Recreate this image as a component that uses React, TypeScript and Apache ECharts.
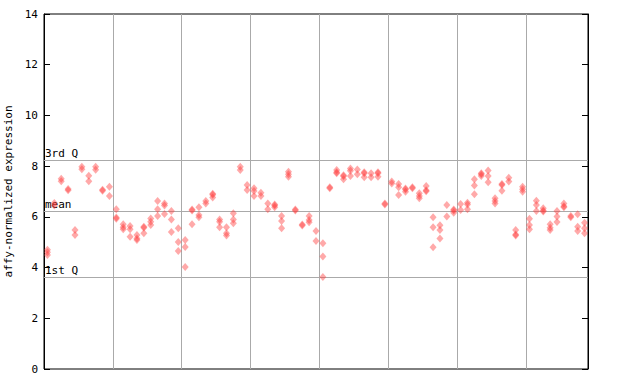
import React, { useEffect, useRef } from "react";
import * as echarts from "echarts";

const rep1 = [4.7,6.55,7.5,7.1,5.48,7.98,7.62,7.98,7.07,7.19, 6.3,5.71,5.64,5.28,5.61,5.94,6.63,6.53,6.23,5.55, 5.09,6.29,6.38,6.63,6.91,5.9,5.59,6.14,7.98,7.26, 7.13,6.95,6.53,6.49,6.03,7.78,6.29,5.7,6.03,5.44, 4.96,7.17,7.85,7.64,7.91,7.87,7.76,7.72,7.76,6.53, 7.39,7.3,7.12,7.17,6.93,7.22,5.98,5.67,6.47,6.29, 6.51,6.56,7.48,7.72,7.83,6.73,7.3,7.54,5.48,7.19, 5.93,6.64,6.34,5.71,6.23,6.53,6.03,6.1,5.77];
const rep2 = [4.5,6.45,7.4,7.05,5.28,7.88,7.4,7.86,7.03,6.82, 5.97,5.59,5.51,5.15,5.57,5.81,6.3,6.45,5.9,5.01, 4.81,6.25,6.07,6.53,6.87,5.81,5.35,5.9,7.85,7.06, 7.02,6.82,6.3,6.45,5.84,7.68,6.25,5.66,5.88,5.05, 4.44,7.13,7.76,7.6,7.82,7.68,7.72,7.56,7.72,6.49, 7.32,7.17,7.08,7.13,6.82,7.05,5.59,5.48,6.01,6.25, 6.27,6.49,7.24,7.68,7.61,6.63,7.26,7.39,5.3,7.09, 5.68,6.47,6.25,5.57,6.01,6.42,5.98,5.61,5.55];
const rep3 = [4.6,null,null,null,null,null,null,null,null,null, 5.93,5.51,5.22,5.09,5.35,5.68,6.03,6.11,5.4,4.65, 4.02,5.71,5.98,null,6.76,5.59,5.26,5.75,null,null, 6.82,null,null,6.38,5.55,7.58,null,null,5.79,null, 3.63,null,7.72,7.48,7.61,null,7.56,null,7.58,null, null,6.86,6.99,null,6.73,7.01,4.8,5.15,null,6.16, null,6.3,6.89,7.61,7.36,6.53,7.03,null,5.26,6.99, 5.51,6.23,6.21,5.48,5.8,6.38,null,5.44,5.35];

const refLines = [
  { name: "3rd Q", value: 8.24 },
  { name: "mean", value: 6.23 },
  { name: "1st Q", value: 3.63 },
];

const yTicks = [0, 2, 4, 6, 8, 10, 12, 14];
const FONT = "DejaVu Sans Mono";

export default function App() {
  const ref = useRef<HTMLDivElement>(null);
  useEffect(() => {
    if (!ref.current) return;
    const chart = echarts.init(ref.current, undefined, { renderer: "svg" });
    const pts: number[][] = [];
    [rep1, rep2, rep3].forEach((arr) => {
      arr.forEach((v, i) => {
        if (v !== null && v !== undefined) pts.push([i + 0.5, v as number]);
      });
    });
    chart.setOption({
      animation: false,
      backgroundColor: "#ffffff",
      grid: {
        left: 44,
        right: 52,
        top: 14,
        bottom: 15,
        containLabel: false,
        outerBoundsMode: "none",
        show: true,
        borderColor: "#000000",
        borderWidth: 1,
        backgroundColor: "transparent",
      },
      xAxis: {
        type: "value",
        min: 0,
        max: rep1.length,
        interval: 10,
        axisLine: { show: false },
        axisTick: { show: false },
        axisLabel: { show: false },
        splitLine: { show: true, lineStyle: { color: "#aaaaaa", width: 1 } },
      },
      yAxis: [
        {
          type: "value",
          min: yTicks[0],
          max: yTicks[yTicks.length - 1],
          interval: 2,
          name: "affy-normalized expression",
          nameLocation: "middle",
          nameGap: 30,
          nameTextStyle: { fontFamily: FONT, fontSize: 11, color: "#000" },
          axisLine: { show: true, lineStyle: { color: "#000", width: 1 } },
          axisTick: { show: true, inside: true, length: 6, lineStyle: { color: "#000" } },
          axisLabel: { fontFamily: FONT, fontSize: 11, color: "#000", margin: 6 },
          splitLine: { show: false },
        },
        {
          type: "value",
          position: "right",
          min: yTicks[0],
          max: yTicks[yTicks.length - 1],
          interval: 2,
          axisLine: { show: true, lineStyle: { color: "#000", width: 1 } },
          axisTick: { show: true, inside: true, length: 6, lineStyle: { color: "#000" } },
          axisLabel: { show: false },
          splitLine: { show: false },
        },
      ],
      series: [
        {
          type: "scatter",
          data: pts,
          symbol: "diamond",
          symbolSize: [7, 8],
          itemStyle: { color: "rgba(255,60,60,0.55)" },
          silent: true,
          z: 3,
          markLine: {
            silent: true,
            symbol: "none",
            z: 1,
            lineStyle: { color: "#aaaaaa", width: 1, type: "solid" },
            label: {
              show: true,
              position: "insideStartTop",
              formatter: "{b}",
              fontFamily: FONT,
              fontSize: 11,
              color: "#000",
              distance: [1, 1],
            },
            data: refLines.map((r) => ({ name: r.name, yAxis: r.value })),
          },
        },
      ],
    });
    return () => chart.dispose();
  }, []);
  return (
    <div
      ref={ref}
      style={{ position: "fixed", left: 0, top: 0, width: 640, height: 384 }}
    />
  );
}
